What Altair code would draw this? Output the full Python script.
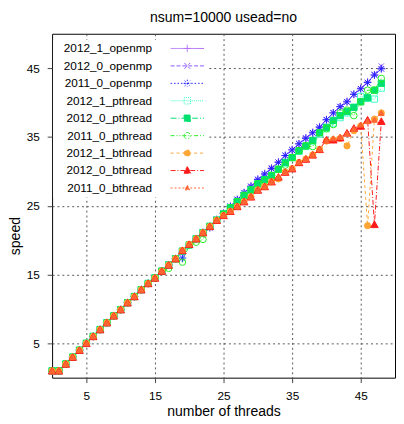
import altair as alt
import pandas as pd

threads = list(range(49))

low = [1.0, 1.0, 2.0, 3.0, 4.0, 5.0, 6.0, 7.0, 8.0, 9.0, 9.9, 10.9, 11.8, 12.8, 13.7, 14.5, 15.5, 16.4, 17.3]
low_dip = [1.0, 1.0, 2.0, 3.0, 4.0, 5.0, 6.0, 7.0, 8.0, 9.0, 9.9, 10.9, 11.8, 12.8, 13.7, 14.5, 15.5, 15.9, 17.3]

s2012_1_openmp = low + [18.3, 19.3, 20.2, 21.1, 22.0, 22.9, 23.9, 24.9, 25.9, 26.9, 27.9, 28.9, 29.7, 30.5, 31.4, 32.3, 33.2, 34.0, 34.9, 35.7, 36.5, 37.5, 38.5, 39.4, 40.2, 41.2, 42.1, 43.0, 44.0, 45.0]
s2012_0_openmp = low + [18.3, 19.3, 20.2, 21.1, 22.0, 23.0, 23.9, 24.9, 25.9, 26.8, 27.8, 28.8, 29.6, 30.5, 31.3, 32.3, 33.1, 34.0, 34.8, 35.6, 36.4, 37.5, 38.5, 39.4, 40.1, 41.2, 42.0, 42.9, 44.1, 45.3]
s2011_0_openmp = low + [17.4, 19.3, 20.2, 21.1, 21.8, 23.0, 23.9, 24.9, 25.9, 26.9, 27.8, 28.8, 29.6, 30.4, 31.3, 32.3, 33.1, 34.0, 34.8, 35.6, 36.4, 37.5, 38.5, 39.4, 40.1, 41.2, 42.0, 42.9, 44.0, 44.9]
s2012_1_pthread = low + [18.4, 19.3, 20.2, 21.1, 22.0, 22.9, 23.8, 24.7, 25.6, 26.5, 27.3, 28.1, 28.8, 29.4, 30.3, 31.2, 32.0, 32.9, 33.6, 34.4, 35.4, 36.2, 37.0, 37.8, 38.5, 39.3, 40.9, 40.6, 40.5, 42.1]
s2012_0_pthread = low + [18.4, 19.3, 20.2, 21.1, 22.0, 22.9, 23.8, 24.7, 25.6, 26.5, 27.3, 28.2, 28.8, 29.4, 30.3, 31.3, 32.0, 33.0, 33.7, 34.5, 35.6, 36.4, 37.4, 38.1, 38.7, 39.3, 40.1, 40.7, 41.8, 42.8]
s2011_0_pthread = low_dip + [16.8, 19.3, 19.7, 20.1, 22.0, 22.9, 23.8, 24.7, 25.6, 26.5, 27.3, 28.2, 28.6, 29.4, 30.3, 30.9, 32.0, 33.0, 33.7, 33.6, 35.6, 36.2, 36.8, 38.5, 38.9, 38.1, 40.1, 41.8, 41.8, 43.5]
s2012_1_bthread = low + [18.5, 19.4, 20.2, 21.1, 22.0, 22.9, 23.6, 24.2, 24.9, 25.6, 26.3, 27.3, 27.8, 28.5, 28.9, 29.9, 30.4, 31.3, 31.8, 32.4, 33.2, 34.4, 34.6, 34.8, 33.7, 35.9, 36.6, 22.1, 37.6, 38.5]
s2012_0_bthread = low + [18.5, 19.4, 20.2, 21.1, 22.0, 22.9, 23.6, 24.2, 24.9, 25.6, 26.3, 27.3, 27.8, 28.5, 29.2, 29.9, 30.4, 31.3, 31.8, 32.4, 33.2, 34.6, 34.6, 34.9, 35.6, 36.3, 36.6, 37.5, 22.3, 37.3]
s2011_0_bthread = low + [18.5, 19.4, 20.2, 21.1, 22.0, 22.9, 23.6, 24.2, 24.9, 25.6, 26.3, 27.3, 27.8, 28.5, 29.2, 29.9, 30.4, 31.3, 31.8, 32.4, 33.2, 34.5, 34.8, 35.0, 35.5, 36.2, 36.8, 37.3, 37.5, 38.5]

names = ["2012_1_openmp", "2012_0_openmp", "2011_0_openmp",
         "2012_1_pthread", "2012_0_pthread", "2011_0_pthread",
         "2012_1_bthread", "2012_0_bthread", "2011_0_bthread"]
series_values = [s2012_1_openmp, s2012_0_openmp, s2011_0_openmp,
                 s2012_1_pthread, s2012_0_pthread, s2011_0_pthread,
                 s2012_1_bthread, s2012_0_bthread, s2011_0_bthread]

colors = ["#b26cf6", "#8a55ff", "#2222ff",
          "#3dffc8", "#00e070", "#22ee22",
          "#ffa533", "#ff1a1a", "#ff6633"]
dashes = [[1, 0], [4, 2], [1.5, 2],
          [1, 1], [6, 2, 1, 2], [4, 2, 1, 2, 1, 2],
          [3, 3], [5, 2, 1, 2], [2, 2]]
plus = "M-1,0L1,0M0,-1L0,1"
xcross = "M-0.75,-0.75L0.75,0.75M-0.75,0.75L0.75,-0.75"
shapes = [plus, xcross, plus + xcross,
          "square", "square", "circle",
          "circle", "triangle-up", "triangle-up"]
fills = ["transparent", "transparent", "transparent",
         "transparent", "#00e070", "transparent",
         "#ffa533", "#ff1a1a", "#ff6633"]
sizes = [60, 55, 60, 40, 40, 45, 40, 60, 35]


# legend key glyphs (unit = 5 px): a sample line with the marker in its middle
def key(marker):
    cx = 2.4
    a = "M-1,0L5.8,0"
    f = lambda v: f"{v:.2f}"
    if marker == "plus":
        m = f"M{f(cx)},-0.75L{f(cx)},0.75M{f(cx-0.75)},0L{f(cx+0.75)},0"
    elif marker == "x":
        d = 0.6
        m = f"M{f(cx-d)},{f(-d)}L{f(cx+d)},{f(d)}M{f(cx-d)},{f(d)}L{f(cx+d)},{f(-d)}"
    elif marker == "star":
        d = 0.55
        m = (f"M{f(cx)},-0.75L{f(cx)},0.75M{f(cx-0.75)},0L{f(cx+0.75)},0"
             f"M{f(cx-d)},{f(-d)}L{f(cx+d)},{f(d)}M{f(cx-d)},{f(d)}L{f(cx+d)},{f(-d)}")
    elif marker == "square":
        d = 0.65
        m = f"M{f(cx-d)},{f(-d)}L{f(cx+d)},{f(-d)}L{f(cx+d)},{f(d)}L{f(cx-d)},{f(d)}Z"
    elif marker == "circle":
        d = 0.65
        m = f"M{f(cx-d)},0A{f(d)},{f(d)} 0 1,0 {f(cx+d)},0A{f(d)},{f(d)} 0 1,0 {f(cx-d)},0Z"
    elif marker == "triangle":
        m = f"M{f(cx)},-0.8L{f(cx+0.75)},0.55L{f(cx-0.75)},0.55Z"
    else:
        m = f"M{f(cx)},-0.55L{f(cx+0.5)},0.38L{f(cx-0.5)},0.38Z"
    return a + m


legend_shapes = [key(k) for k in ["plus", "x", "star", "square", "square",
                                   "circle", "circle", "triangle", "smalltri"]]

rows = []
for i, (name, vals) in enumerate(zip(names, series_values)):
    for t, v in zip(threads, vals):
        rows.append({"threads": t, "speed": v, "series": name,
                     "fillc": fills[i], "sz": sizes[i]})
df = pd.DataFrame(rows)

ticks = [5, 15, 25, 35, 45]
xenc = alt.X("threads:Q", scale=alt.Scale(domain=[0, 50], nice=False, zero=False),
             axis=alt.Axis(values=ticks, title="number of threads", titleY=35,
                           titleBaseline="middle"))
yenc = alt.Y("speed:Q", scale=alt.Scale(domain=[0, 50], nice=False, zero=False),
             axis=alt.Axis(values=ticks, title="speed", titleX=-37, titleY=206,
                           titleBaseline="middle", titleAngle=270))

base = alt.Chart(df)

lines = base.mark_line(strokeWidth=1).encode(
    x=xenc, y=yenc,
    stroke=alt.Stroke("series:N", scale=alt.Scale(domain=names, range=colors), legend=None),
    strokeDash=alt.StrokeDash("series:N", scale=alt.Scale(domain=names, range=dashes), legend=None),
)

points = base.mark_point(filled=False, strokeWidth=1, opacity=1).encode(
    x=xenc, y=yenc,
    stroke=alt.Stroke("series:N", scale=alt.Scale(domain=names, range=colors), legend=None),
    shape=alt.Shape("series:N", scale=alt.Scale(domain=names, range=shapes), legend=None),
    fill=alt.Fill("fillc:N", scale=None),
    size=alt.Size("sz:Q", scale=None),
)

# blank (braille-blank) title on the left only reserves room for the right-aligned labels
blank = "\u2800" * 10
leg = alt.Legend(title=blank, titleOrient="left", titlePadding=10, titleFontSize=13.5,
                 titleFont="DejaVu Sans", titleColor="white",
                 orient="none", legendX=1, legendY=6, fillColor="white",
                 padding=3, labelFontSize=12, labelAlign="right", labelOffset={"expr": "-30"},
                 symbolSize=100, symbolStrokeWidth=1, rowPadding=5.8,
                 labelFont="Liberation Sans", labelColor="black")

legend_layer = base.transform_filter("datum.threads < -100").mark_point(
    filled=False, strokeWidth=1, opacity=1).encode(
    x=xenc, y=yenc,
    stroke=alt.Stroke("series:N", scale=alt.Scale(domain=names, range=colors), legend=leg),
    fill=alt.Fill("series:N", scale=alt.Scale(domain=names, range=fills), legend=leg),
    shape=alt.Shape("series:N", scale=alt.Scale(domain=names, range=legend_shapes), legend=leg),
    strokeDash=alt.StrokeDash("series:N", scale=alt.Scale(domain=names, range=dashes), legend=leg),
)

chart = alt.layer(lines, points, legend_layer).resolve_scale(
    stroke="independent", fill="independent", shape="independent", strokeDash="independent"
).properties(
    width=350, height=351,
    title=alt.TitleParams("nsum=10000 usead=no", fontSize=14.3, fontWeight="normal",
                          offset=9, anchor="middle", font="Liberation Sans", color="black"),
    autosize="none",
    padding={"left": 45, "top": 22, "right": 1, "bottom": 44},
).configure_view(
    stroke="black", strokeWidth=1
).configure_axis(
    grid=True, gridDash=[2, 3], gridColor="#555", gridOpacity=1, gridWidth=1,
    domain=False, tickSize=5, tickColor="#444", tickWidth=1,
    labelFontSize=12, labelFont="Liberation Sans", labelColor="black", labelPadding=8,
    titleFontSize=14.3, titleFontWeight="normal", titleFont="Liberation Sans", titleColor="black",
)

chart.save("out.html", embed_options={"renderer": "svg", "actions": False})
